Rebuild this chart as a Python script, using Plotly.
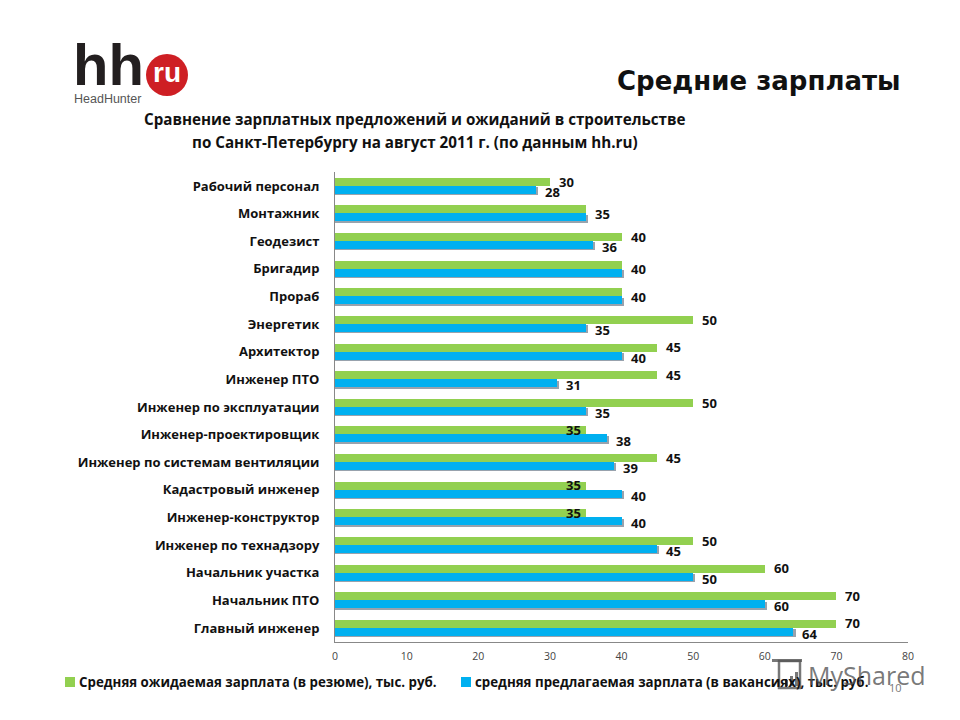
import plotly.graph_objects as go

# Данные: сверху вниз, как на слайде
categories = [
    "Рабочий персонал", "Монтажник", "Геодезист", "Бригадир", "Прораб",
    "Энергетик", "Архитектор", "Инженер ПТО", "Инженер по эксплуатации",
    "Инженер-проектировщик", "Инженер по системам вентиляции",
    "Кадастровый инженер", "Инженер-конструктор", "Инженер по технадзору",
    "Начальник участка", "Начальник ПТО", "Главный инженер",
]
resume = [30, 35, 40, 40, 40, 50, 45, 45, 50, 35, 45, 35, 35, 50, 60, 70, 70]
vacancy = [28, 35, 36, 40, 40, 35, 40, 31, 35, 38, 39, 40, 40, 45, 50, 60, 64]
x_ticks = [0, 10, 20, 30, 40, 50, 60, 70, 80]

name_resume = "Средняя ожидаемая зарплата (в резюме), тыс. руб."
name_vacancy = "средняя предлагаемая зарплата (в вакансиях), тыс. руб."

GREEN = "#92D050"
BLUE = "#00B0F0"
FONT = "Open Sans"
MARK = "rgba(85,85,85,0.8)"
W, H = 960, 720


def px(x):
    return x / W


def py(y):
    return 1 - y / H


def note(x, y, text, size, color="#111111", family=FONT, bold=False, xanchor="center"):
    fig.add_annotation(
        xref="paper", yref="paper", x=px(x), y=py(y), text=text, showarrow=False,
        xanchor=xanchor, yanchor="middle",
        font=dict(family=family, size=size, color=color, weight="bold" if bold else "normal"),
    )


def box(x0, y0, x1, y1, fill="rgba(0,0,0,0)", line=None, kind="rect"):
    fig.add_shape(type=kind, xref="paper", yref="paper", x0=px(x0), x1=px(x1), y0=py(y1), y1=py(y0),
                  fillcolor=fill, line=dict(color=line, width=2.5) if line else dict(width=0))


fig = go.Figure()

# тень под синими полосами
fig.add_trace(go.Bar(
    y=categories, x=[v + 0.3 for v in vacancy], orientation="h", width=0.29, offset=0.05,
    marker=dict(color="#7f8c99", line_width=0), opacity=0.8,
    showlegend=False, hoverinfo="skip",
))
fig.add_trace(go.Bar(
    y=categories, x=resume, orientation="h", width=0.29, offset=-0.29,
    marker=dict(color=GREEN, line_width=0), name=name_resume, showlegend=False,
))
fig.add_trace(go.Bar(
    y=categories, x=vacancy, orientation="h", width=0.29, offset=0,
    marker=dict(color=BLUE, line_width=0), name=name_vacancy, showlegend=False,
))

# подписи значений
for cat, g, b in zip(categories, resume, vacancy):
    lab = dict(xref="x", yref="y", y=cat, showarrow=False, xanchor="left", yanchor="middle",
               font=dict(family=FONT, size=13, color="#111111", weight="bold"))
    if g == b:
        fig.add_annotation(x=g, text=str(g), xshift=7, yshift=0, **lab)
    else:
        # если синяя длиннее, подпись зелёной сдвинута влево на полосу
        fig.add_annotation(x=g, text=str(g), xshift=-22 if b > g else 7, yshift=4.5, **lab)
        fig.add_annotation(x=b, text=str(b), xshift=7, yshift=-6, **lab)

# логотип
box(146, 54, 188, 96, fill="#CE1F24", kind="circle")
note(167, 73, "ru", 28, color="white", family="Liberation Sans", bold=True)
note(71, 64, "hh", 58, color="#231F20", family="Liberation Sans", bold=True, xanchor="left")
note(72, 99, "HeadHunter", 12.5, color="#555555", family="Liberation Sans", xanchor="left")

# заголовки
note(903, 81, "Средние зарплаты", 26, family="DejaVu Sans", bold=True, xanchor="right")
note(415, 119, "Сравнение зарплатных предложений и ожиданий в строительстве", 15.2, bold=True)
note(415, 142, "по Санкт-Петербургу на август 2011 г. (по данным hh.ru)", 15.2, bold=True)

# легенда
for x0, color, name in [(65, GREEN, name_resume), (461, BLUE, name_vacancy)]:
    box(x0, 677, x0 + 10, 687, fill=color)
    note(x0 + 11.5, 682, name, 13.3, bold=True, xanchor="left")

# номер слайда и водяной знак
note(895, 687, "10", 11, color="#777777")
note(806, 675, "MyShared", 25, color=MARK, xanchor="left")
box(779, 661, 800, 688, line=MARK)
box(772, 659, 802, 662, fill=MARK)
box(785, 680, 788, 686, fill=MARK)
box(790, 676, 793, 686, fill=MARK)
box(795, 672, 798, 686, fill=MARK)

fig.update_layout(
    width=W, height=H, margin=dict(l=0, r=0, t=0, b=0),
    paper_bgcolor="white", plot_bgcolor="white",
    barmode="overlay", bargap=0, showlegend=False,
    font=dict(family=FONT, color="#111111"),
    xaxis=dict(domain=[px(335), px(908)], range=[0, 80], tickvals=x_ticks, showgrid=False, zeroline=False,
               automargin=False, showline=True, linecolor="#888888", linewidth=1, ticks="",
               tickfont=dict(size=10.5, color="#444444"), ticklabelstandoff=5),
    yaxis=dict(domain=[py(641.8), py(172.2)], range=[len(categories) - 0.5, -0.5], showgrid=False, showline=True,
               automargin=False, linecolor="#888888", linewidth=1, ticks="", ticklabelstandoff=12,
               tickfont=dict(size=13, color="#111111", weight="bold")),
)

fig.write_html("out.html", config={"displayModeBar": False},
               post_script="document.body.style.margin='0';")
